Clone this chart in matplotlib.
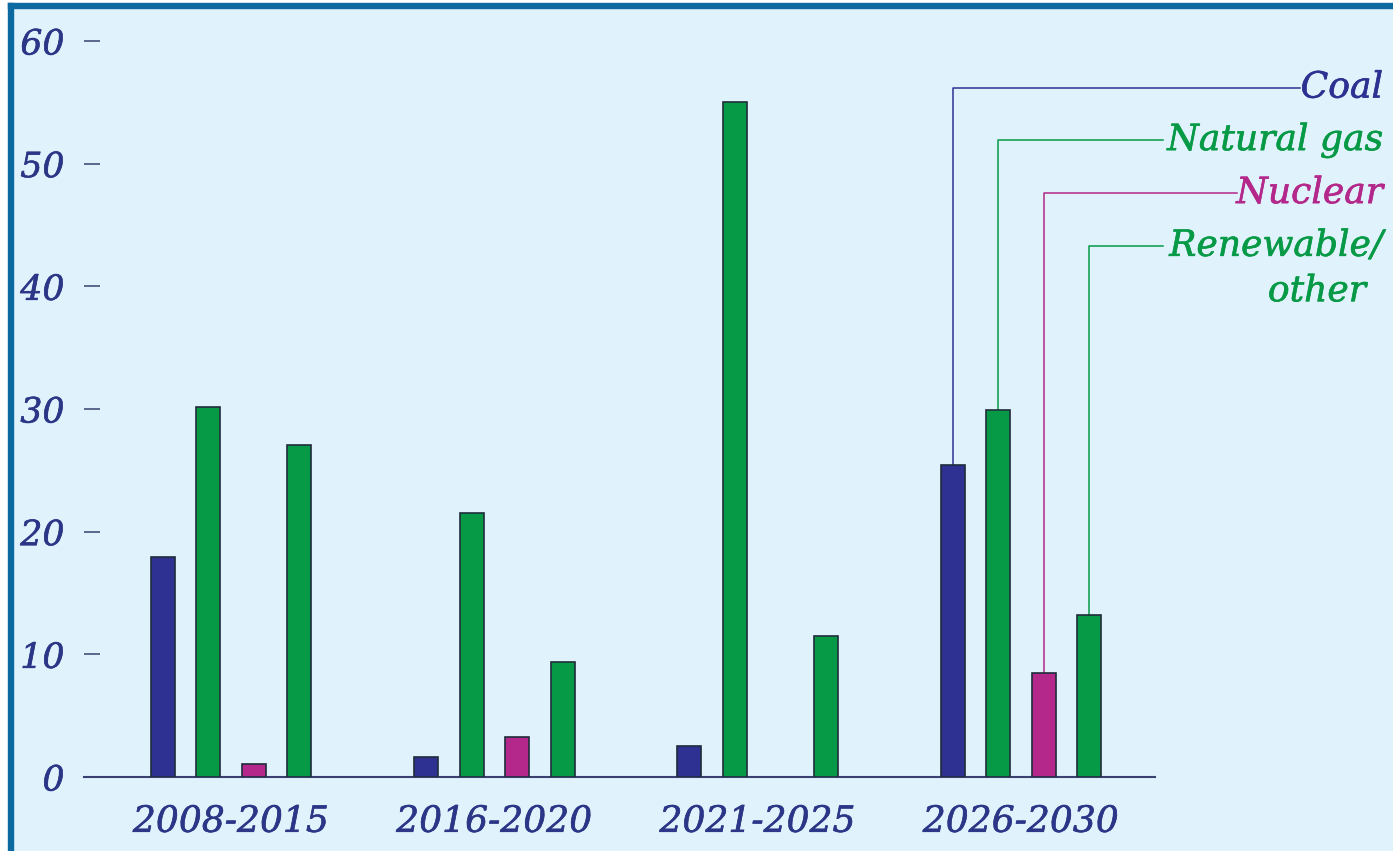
import numpy as np
import matplotlib
matplotlib.use("Agg")
import matplotlib.pyplot as plt
import matplotlib.patheffects as pe
from matplotlib.lines import Line2D
from matplotlib.patches import Rectangle

# capacity additions by period and fuel
periods = ["2008-2015", "2016-2020", "2021-2025", "2026-2030"]
coal = [17.9, 1.6, 2.5, 25.4]
natural_gas = [30.2, 21.5, 55.0, 29.9]
nuclear = [1.1, 3.3, 0.0, 8.5]
renewable = [27.1, 9.4, 11.5, 13.2]

series_names = ["Coal", "Natural gas", "Nuclear", "Renewable/"]
label_levels = [56.2, 51.9, 47.6, 43.3]

navy = "#2e3192"
green = "#079a46"
magenta = "#b3288a"
text_navy = "#2b3687"
bg = "#e0f2fc"
frame = "#0d6aa1"
fs = 26

plt.rcParams["font.family"] = ["DejaVu Serif"]
plt.rcParams["font.style"] = "italic"


def heavy(color):
    # thicken the glyphs a little
    return [pe.withStroke(linewidth=0.45, foreground=color)]


W, H = 1393, 851
fig = plt.figure(figsize=(W / 100, H / 100), dpi=100)
fig.patch.set_facecolor("white")

# light panel with a heavy border on left and top (kept behind the axes)
fig.patches.append(Rectangle((11 / W, 0), 1 - 11 / W, 1 - 6 / H,
                             transform=fig.transFigure, facecolor=bg,
                             edgecolor="none", zorder=-3))
fig.lines.append(Line2D([11 / W, 11 / W], [0, 1 - 6 / H], transform=fig.transFigure,
                        color=frame, linewidth=4.6, solid_capstyle="projecting", zorder=-2))
fig.lines.append(Line2D([11 / W, 1], [1 - 6 / H, 1 - 6 / H], transform=fig.transFigure,
                        color=frame, linewidth=4.6, solid_capstyle="projecting", zorder=-2))

# axes placed so that 0 sits at y=777px and groups are 263px apart
px_per_unit = 12.267
y_top = 62
ax_left, ax_right = 84, 1155
ax_bottom = 777
ax_h = y_top * px_per_unit
ax = fig.add_axes([ax_left / W, (H - ax_bottom) / H, (ax_right - ax_left) / W, ax_h / H])
ax.set_facecolor("none")

gap = 263.3
x0 = 231
ax.set_xlim((ax_left - x0) / gap, (ax_right - x0) / gap)
ax.set_ylim(0, y_top)

x = np.arange(len(periods))
step = 45.5 / gap
width = 24 / gap
all_series = [coal, natural_gas, nuclear, renewable]
colors = [navy, green, magenta, green]
edge = "#1f2d3a"
offsets = [-1.5, -0.5, 0.5, 1.5]
for vals, c, off in zip(all_series, colors, offsets):
    vals = np.array(vals)
    keep = vals > 0
    ax.bar(x[keep] + off * step, vals[keep], width=width, color=c,
           edgecolor=edge, linewidth=1.2, zorder=3)

for s in ["top", "right", "left"]:
    ax.spines[s].set_visible(False)
ax.spines["bottom"].set_color("#3a4070")
ax.spines["bottom"].set_linewidth(1.5)

ax.set_yticks(np.arange(0, 61, 10))
ax.tick_params(axis="y", direction="in", length=11.5, width=1.1, color="#3a4070",
               pad=14, labelsize=25, labelcolor=text_navy)
ax.set_xticks(x)
ax.set_xticklabels(periods)
ax.tick_params(axis="x", length=0, pad=20, labelsize=fs, labelcolor=text_navy)
for lab in ax.get_xticklabels() + ax.get_yticklabels():
    lab.set_path_effects(heavy(text_navy))

# leader lines from the last group's bars to the series names
last = len(periods) - 1
text_x = (1383 - x0) / gap
line_ends = [1300, 1163, 1237, 1163]
label_colors = [navy, green, magenta, green]
for vals, off, lvl, name, col, end in zip(all_series, offsets, label_levels,
                                          series_names, label_colors, line_ends):
    bx = last + off * step
    ex = (end - x0) / gap
    ax.plot([bx, bx, ex], [vals[last], lvl, lvl], color=col, linewidth=1.1,
            clip_on=False, zorder=2)
    ax.text(text_x, lvl, name, ha="right", va="center", fontsize=fs,
            color=col, clip_on=False, path_effects=heavy(col))
ax.text((1366 - x0) / gap, label_levels[-1] - 3.7, "other", ha="right", va="center",
        fontsize=fs, color=green, clip_on=False, path_effects=heavy(green))

fig.savefig("out.png", dpi=100, facecolor=fig.get_facecolor())
